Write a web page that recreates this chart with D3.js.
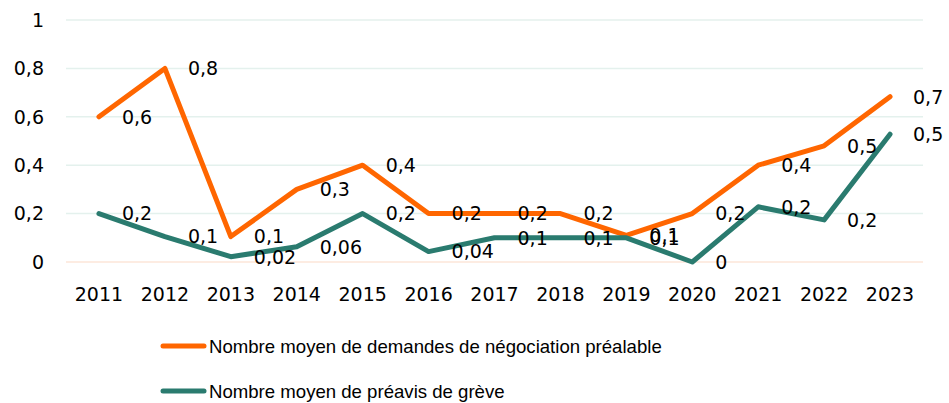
<!DOCTYPE html>
<html>
<head>
<meta charset="utf-8">
<script src="https://cdn.jsdelivr.net/npm/d3@7"></script>
<style>
  body { margin: 0; background: #fff; }
  svg text { fill: #000; }
  .num { font-family: "DejaVu Sans", sans-serif; font-size: 19px; }
  .leg { font-family: "Liberation Sans", Arial, sans-serif; font-size: 18.6px; }
</style>
</head>
<body>
<svg id="chart" width="949" height="403"></svg>
<script>
var YEARS = ['2011', '2012', '2013', '2014', '2015', '2016', '2017', '2018', '2019', '2020', '2021', '2022', '2023'];
var NEGOCIATION = [0.6, 0.8, 0.105, 0.3, 0.4, 0.2, 0.2, 0.2, 0.11, 0.2, 0.4, 0.48, 0.683];
var PREAVIS = [0.2, 0.105, 0.022, 0.063, 0.2, 0.043, 0.1, 0.1, 0.1, 0, 0.228, 0.174, 0.528];
var Y_TICKS = [0, 0.2, 0.4, 0.6, 0.8, 1];

var SERIES = [
  { name: 'Nombre moyen de demandes de négociation préalable', values: NEGOCIATION, color: '#ff6600' },
  { name: 'Nombre moyen de préavis de grève', values: PREAVIS, color: '#2a7b6f' }
];

var svg = d3.select('#chart');
var margin = { top: 20, right: 26, left: 66 };
var plotBottom = 262;
var width = 949 - margin.left - margin.right;

var x = d3.scaleBand().domain(YEARS).range([margin.left, margin.left + width]).padding(0);
var y = d3.scaleLinear().domain([0, 1]).range([plotBottom, margin.top]);

function frNum(v) {
  var s;
  if (v === 0) s = '0';
  else if (Math.abs(v) < 0.095) s = d3.format('.2f')(v);
  else s = d3.format('.1f')(v);
  s = s.replace(/\.?0+$/, '') || '0';
  return s.replace('.', ',');
}

// gridlines
svg.append('g').selectAll('line')
    .data(Y_TICKS)
  .enter().append('line')
    .attr('x1', margin.left)
    .attr('x2', margin.left + width)
    .attr('y1', (d) => y(d))
    .attr('y2', (d) => y(d))
    .attr('stroke', (d) => d === 0 ? '#fde6d8' : '#e4f1ed')
    .attr('stroke-width', 1.5);

// y axis labels
svg.append('g').selectAll('text')
    .data(Y_TICKS)
  .enter().append('text')
    .attr('class', 'num')
    .attr('x', 44)
    .attr('y', (d) => y(d))
    .attr('dy', '0.36em')
    .attr('text-anchor', 'end')
    .text((d) => frNum(d));

// x axis labels
svg.append('g').selectAll('text')
    .data(YEARS)
  .enter().append('text')
    .attr('class', 'num')
    .attr('x', (d) => x(d) + x.bandwidth() / 2)
    .attr('y', 294)
    .attr('dy', '0.36em')
    .attr('text-anchor', 'middle')
    .text((d) => d);

var line = d3.line()
  .x((d, i) => x(YEARS[i]) + x.bandwidth() / 2)
  .y((d) => y(d));

SERIES.forEach(function(s) {
  svg.append('path')
      .attr('d', line(s.values))
      .attr('fill', 'none')
      .attr('stroke', s.color)
      .attr('stroke-width', 5)
      .attr('stroke-linejoin', 'round')
      .attr('stroke-linecap', 'round');
});

// data labels, to the right of each point
SERIES.forEach(function(s) {
  svg.append('g').selectAll('text')
      .data(s.values)
    .enter().append('text')
      .attr('class', 'num')
      .attr('x', (d, i) => x(YEARS[i]) + x.bandwidth() / 2 + 23)
      .attr('y', (d) => y(d))
      .attr('dy', '0.36em')
      .text((d) => frNum(d));
});

// legend
var legend = svg.append('g').selectAll('g')
    .data(SERIES)
  .enter().append('g')
    .attr('transform', (d, i) => 'translate(0,' + (346 + i * 45) + ')');

legend.append('line')
    .attr('x1', 163).attr('x2', 204)
    .attr('stroke', (d) => d.color)
    .attr('stroke-width', 5)
    .attr('stroke-linecap', 'round');

legend.append('text')
    .attr('class', 'leg')
    .attr('x', 209)
    .attr('dy', '0.36em')
    .text((d) => d.name);
</script>
</body>
</html>
